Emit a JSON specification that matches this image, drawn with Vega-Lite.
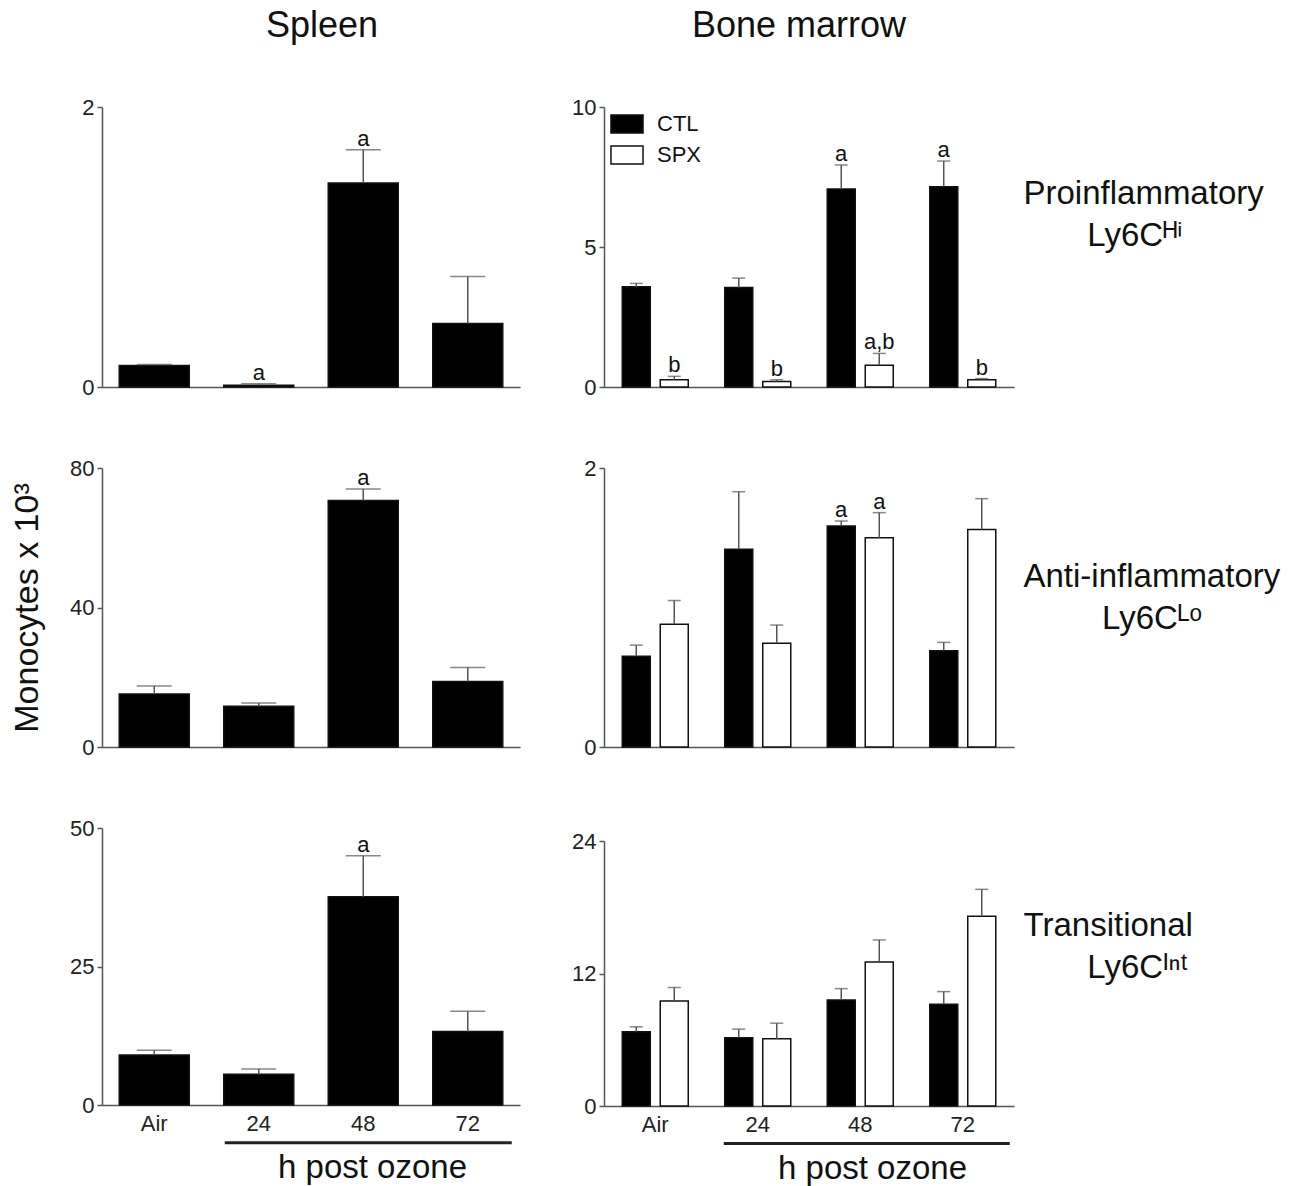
{
  "$schema": "https://vega.github.io/schema/vega-lite/v6.json",
  "background": "white",
  "padding": {"left": 10, "top": 8, "right": 5, "bottom": 2},
  "datasets": {
    "sp_hi": [
      {"t": "Air", "v": 0.153, "hi": 0.16, "sig": ""},
      {"t": "24", "v": 0.012, "hi": 0.024, "sig": "a"},
      {"t": "48", "v": 1.457, "hi": 1.694, "sig": "a"},
      {"t": "72", "v": 0.454, "hi": 0.789, "sig": ""}
    ],
    "sp_lo": [
      {"t": "Air", "v": 15.2, "hi": 17.5, "sig": ""},
      {"t": "24", "v": 11.67, "hi": 12.6, "sig": ""},
      {"t": "48", "v": 70.7, "hi": 74.0, "sig": "a"},
      {"t": "72", "v": 18.8, "hi": 22.8, "sig": ""}
    ],
    "sp_int": [
      {"t": "Air", "v": 9.04, "hi": 9.9, "sig": ""},
      {"t": "24", "v": 5.55, "hi": 6.5, "sig": ""},
      {"t": "48", "v": 37.6, "hi": 45.0, "sig": "a"},
      {"t": "72", "v": 13.25, "hi": 16.9, "sig": ""}
    ],
    "bm_hi": [
      {"t": "Air", "g": "CTL", "v": 3.58, "hi": 3.70, "sig": ""},
      {"t": "Air", "g": "SPX", "v": 0.26, "hi": 0.38, "sig": "b"},
      {"t": "24", "g": "CTL", "v": 3.55, "hi": 3.89, "sig": ""},
      {"t": "24", "g": "SPX", "v": 0.20, "hi": 0.26, "sig": "b"},
      {"t": "48", "g": "CTL", "v": 7.07, "hi": 7.93, "sig": "a"},
      {"t": "48", "g": "SPX", "v": 0.78, "hi": 1.20, "sig": "a,b"},
      {"t": "72", "g": "CTL", "v": 7.15, "hi": 8.07, "sig": "a"},
      {"t": "72", "g": "SPX", "v": 0.26, "hi": 0.30, "sig": "b"}
    ],
    "bm_lo": [
      {"t": "Air", "g": "CTL", "v": 0.65, "hi": 0.73, "sig": ""},
      {"t": "Air", "g": "SPX", "v": 0.88, "hi": 1.05, "sig": ""},
      {"t": "24", "g": "CTL", "v": 1.418, "hi": 1.83, "sig": ""},
      {"t": "24", "g": "SPX", "v": 0.743, "hi": 0.874, "sig": ""},
      {"t": "48", "g": "CTL", "v": 1.585, "hi": 1.62, "sig": "a"},
      {"t": "48", "g": "SPX", "v": 1.50, "hi": 1.68, "sig": "a"},
      {"t": "72", "g": "CTL", "v": 0.69, "hi": 0.75, "sig": ""},
      {"t": "72", "g": "SPX", "v": 1.56, "hi": 1.78, "sig": ""}
    ],
    "bm_int": [
      {"t": "Air", "g": "CTL", "v": 6.72, "hi": 7.17, "sig": ""},
      {"t": "Air", "g": "SPX", "v": 9.52, "hi": 10.73, "sig": ""},
      {"t": "24", "g": "CTL", "v": 6.18, "hi": 6.96, "sig": ""},
      {"t": "24", "g": "SPX", "v": 6.09, "hi": 7.5, "sig": ""},
      {"t": "48", "g": "CTL", "v": 9.61, "hi": 10.63, "sig": ""},
      {"t": "48", "g": "SPX", "v": 13.05, "hi": 15.04, "sig": ""},
      {"t": "72", "g": "CTL", "v": 9.22, "hi": 10.36, "sig": ""},
      {"t": "72", "g": "SPX", "v": 17.18, "hi": 19.62, "sig": ""}
    ],
    "bracket": [
      {"t": "24", "t2": "72"}
    ]
  },
  "spacing": 51,
  "hconcat": [
    {
      "spacing": 59,
      "vconcat": [
        {
          "width": 418, "height": 280,
          "data": {"name": "sp_hi"},
          "title": {"text": "Spleen", "fontSize": 36, "offset": 51, "anchor": "middle", "frame": "group", "dx": 11},
          "encoding": {"x": {"field": "t", "type": "nominal", "scale": {"domain": ["Air", "24", "48", "72"], "paddingInner": 0.33, "paddingOuter": 0.165}, "axis": {"labels": false, "ticks": false, "title": null}}},
          "layer": [
            {"mark": {"type": "bar", "fill": "#000", "stroke": "#111", "strokeWidth": 1.5},
             "encoding": {"y": {"field": "v", "type": "quantitative", "scale": {"domain": [0, 2]}, "axis": {"values": [0, 1, 2], "format": "d", "title": null}}}},
            {"mark": {"type": "rule", "color": "#555", "strokeWidth": 1.5},
             "encoding": {"y": {"field": "v", "type": "quantitative", "scale": {"domain": [0, 2]}, "axis": {"values": [0, 1, 2], "format": "d", "title": null}}, "y2": {"field": "hi"}}},
            {"mark": {"type": "tick", "color": "#555", "thickness": 1.5, "size": 35},
             "encoding": {"y": {"field": "hi", "type": "quantitative", "scale": {"domain": [0, 2]}, "axis": {"values": [0, 1, 2], "format": "d", "title": null}}}},
            {"transform": [{"filter": "datum.sig != ''"}],
             "mark": {"type": "text", "dy": -4, "baseline": "alphabetic", "fontSize": 22, "color": "#111"},
             "encoding": {"y": {"field": "hi", "type": "quantitative", "scale": {"domain": [0, 2]}, "axis": {"values": [0, 1, 2], "format": "d", "title": null}}, "text": {"field": "sig"}}}
          ]
        },
        {
          "width": 418, "height": 279,
          "data": {"name": "sp_lo"},
          "encoding": {"x": {"field": "t", "type": "nominal", "scale": {"domain": ["Air", "24", "48", "72"], "paddingInner": 0.33, "paddingOuter": 0.165}, "axis": {"labels": false, "ticks": false, "title": null}}},
          "layer": [
            {"mark": {"type": "bar", "fill": "#000", "stroke": "#111", "strokeWidth": 1.5},
             "encoding": {"y": {"field": "v", "type": "quantitative", "scale": {"domain": [0, 80]}, "axis": {"values": [0, 40, 80], "format": "d", "title": "Monocytes x 10\u00b3", "titleFontSize": 34, "titlePadding": 25}}}},
            {"mark": {"type": "rule", "color": "#555", "strokeWidth": 1.5},
             "encoding": {"y": {"field": "v", "type": "quantitative", "scale": {"domain": [0, 80]}, "axis": {"values": [0, 40, 80], "format": "d", "title": "Monocytes x 10\u00b3", "titleFontSize": 34, "titlePadding": 25}}, "y2": {"field": "hi"}}},
            {"mark": {"type": "tick", "color": "#555", "thickness": 1.5, "size": 35},
             "encoding": {"y": {"field": "hi", "type": "quantitative", "scale": {"domain": [0, 80]}, "axis": {"values": [0, 40, 80], "format": "d", "title": "Monocytes x 10\u00b3", "titleFontSize": 34, "titlePadding": 25}}}},
            {"transform": [{"filter": "datum.sig != ''"}],
             "mark": {"type": "text", "dy": -4, "baseline": "alphabetic", "fontSize": 22, "color": "#111"},
             "encoding": {"y": {"field": "hi", "type": "quantitative", "scale": {"domain": [0, 80]}, "axis": {"values": [0, 40, 80], "format": "d", "title": "Monocytes x 10\u00b3", "titleFontSize": 34, "titlePadding": 25}}, "text": {"field": "sig"}}}
          ]
        },
        {
          "width": 418, "height": 277,
          "data": {"name": "sp_int"},
          "encoding": {"x": {"field": "t", "type": "nominal", "scale": {"domain": ["Air", "24", "48", "72"], "paddingInner": 0.33, "paddingOuter": 0.165}, "axis": {"labels": true, "ticks": false, "labelAngle": 0, "labelPadding": 8, "title": "h post ozone", "titleFontSize": 33, "titleX": 270, "titlePadding": 17}}},
          "layer": [
            {"mark": {"type": "bar", "fill": "#000", "stroke": "#111", "strokeWidth": 1.5},
             "encoding": {"y": {"field": "v", "type": "quantitative", "scale": {"domain": [0, 50]}, "axis": {"values": [0, 25, 50], "format": "d", "title": null}}}},
            {"mark": {"type": "rule", "color": "#555", "strokeWidth": 1.5},
             "encoding": {"y": {"field": "v", "type": "quantitative", "scale": {"domain": [0, 50]}, "axis": {"values": [0, 25, 50], "format": "d", "title": null}}, "y2": {"field": "hi"}}},
            {"mark": {"type": "tick", "color": "#555", "thickness": 1.5, "size": 35},
             "encoding": {"y": {"field": "hi", "type": "quantitative", "scale": {"domain": [0, 50]}, "axis": {"values": [0, 25, 50], "format": "d", "title": null}}}},
            {"transform": [{"filter": "datum.sig != ''"}],
             "mark": {"type": "text", "dy": -4, "baseline": "alphabetic", "fontSize": 22, "color": "#111"},
             "encoding": {"y": {"field": "hi", "type": "quantitative", "scale": {"domain": [0, 50]}, "axis": {"values": [0, 25, 50], "format": "d", "title": null}}, "text": {"field": "sig"}}},
            {"data": {"name": "bracket"},
             "mark": {"type": "rule", "color": "#222", "strokeWidth": 3, "xOffset": -34, "x2Offset": 44},
             "encoding": {"x2": {"field": "t2"}, "y": {"datum": -6.8, "type": "quantitative", "scale": {"domain": [0, 50]}, "axis": {"values": [0, 25, 50], "format": "d", "title": null}}}}
          ]
        }
      ]
    },
    {
      "spacing": 59,
      "resolve": {"scale": {"fill": "independent"}},
      "vconcat": [
        {
          "width": 410, "height": 280,
          "data": {"name": "bm_hi"},
          "title": {"text": "Bone marrow", "fontSize": 36, "offset": 51, "anchor": "middle", "frame": "group", "dx": -10},
          "resolve": {"axis": {"y": "independent"}},
          "encoding": {"x": {"field": "t", "type": "nominal", "scale": {"domain": ["Air", "24", "48", "72"], "paddingInner": 0.356, "paddingOuter": 0.178}, "axis": {"labels": false, "ticks": false, "title": null}}},
          "layer": [
            {"mark": {"type": "bar", "stroke": "#111", "strokeWidth": 1.5},
             "encoding": {
               "xOffset": {"field": "g", "type": "nominal", "scale": {"domain": ["CTL", "SPX"], "paddingInner": 0.263, "paddingOuter": 0}},
               "y": {"field": "v", "type": "quantitative", "scale": {"domain": [0, 10]}, "axis": {"values": [0, 5, 10], "format": "d", "title": null}},
               "fill": {"field": "g", "type": "nominal", "scale": {"domain": ["CTL", "SPX"], "range": ["#000000", "#ffffff"]},
                 "legend": {"title": null, "orient": "none", "legendX": 12, "legendY": 6, "padding": 0, "symbolType": "M-1.78,-1H1.78V1H-1.78Z", "symbolSize": 324, "symbolStrokeColor": "#111", "symbolStrokeWidth": 1.5, "symbolOpacity": 1, "labelFontSize": 22, "labelOffset": 19, "rowPadding": 7, "labelColor": "#111"}}
             }},
            {"mark": {"type": "rule", "color": "#555", "strokeWidth": 1.5},
             "encoding": {
               "xOffset": {"field": "g", "type": "nominal", "scale": {"domain": ["CTL", "SPX"], "paddingInner": 0.263, "paddingOuter": 0}},
               "y": {"field": "v", "type": "quantitative", "scale": {"domain": [0, 10]}, "axis": null}, "y2": {"field": "hi"}}},
            {"mark": {"type": "tick", "color": "#555", "thickness": 1.5, "size": 13},
             "encoding": {
               "xOffset": {"field": "g", "type": "nominal", "scale": {"domain": ["CTL", "SPX"], "paddingInner": 0.263, "paddingOuter": 0}},
               "y": {"field": "hi", "type": "quantitative", "scale": {"domain": [0, 10]},
                 "axis": {"orient": "right", "domain": false, "ticks": false, "labels": false, "grid": false, "title": ["Proinflammatory", "\u2800\u2800 \u2009Ly6C\u1d34\u2071"], "titleAngle": 0, "titleAlign": "left", "titleBaseline": "middle", "titleX": 9, "titleY": 86, "titleFontSize": 33, "titleLineHeight": 42, "titleColor": "#111", "titleFontWeight": "normal"}}}},
            {"transform": [{"filter": "datum.sig != ''"}],
             "mark": {"type": "text", "dy": -4, "baseline": "alphabetic", "fontSize": 22, "color": "#111"},
             "encoding": {
               "xOffset": {"field": "g", "type": "nominal", "scale": {"domain": ["CTL", "SPX"], "paddingInner": 0.263, "paddingOuter": 0}},
               "y": {"field": "hi", "type": "quantitative", "scale": {"domain": [0, 10]}, "axis": null}, "text": {"field": "sig"}}}
          ]
        },
        {
          "width": 410, "height": 279,
          "data": {"name": "bm_lo"},
          "resolve": {"axis": {"y": "independent"}},
          "encoding": {"x": {"field": "t", "type": "nominal", "scale": {"domain": ["Air", "24", "48", "72"], "paddingInner": 0.356, "paddingOuter": 0.178}, "axis": {"labels": false, "ticks": false, "title": null}}},
          "layer": [
            {"mark": {"type": "bar", "stroke": "#111", "strokeWidth": 1.5},
             "encoding": {
               "xOffset": {"field": "g", "type": "nominal", "scale": {"domain": ["CTL", "SPX"], "paddingInner": 0.263, "paddingOuter": 0}},
               "y": {"field": "v", "type": "quantitative", "scale": {"domain": [0, 2]}, "axis": {"values": [0, 1, 2], "format": "d", "title": null}},
               "fill": {"field": "g", "type": "nominal", "scale": {"domain": ["CTL", "SPX"], "range": ["#000000", "#ffffff"]}, "legend": null}
             }},
            {"mark": {"type": "rule", "color": "#555", "strokeWidth": 1.5},
             "encoding": {
               "xOffset": {"field": "g", "type": "nominal", "scale": {"domain": ["CTL", "SPX"], "paddingInner": 0.263, "paddingOuter": 0}},
               "y": {"field": "v", "type": "quantitative", "scale": {"domain": [0, 2]}, "axis": null}, "y2": {"field": "hi"}}},
            {"mark": {"type": "tick", "color": "#555", "thickness": 1.5, "size": 13},
             "encoding": {
               "xOffset": {"field": "g", "type": "nominal", "scale": {"domain": ["CTL", "SPX"], "paddingInner": 0.263, "paddingOuter": 0}},
               "y": {"field": "hi", "type": "quantitative", "scale": {"domain": [0, 2]},
                 "axis": {"orient": "right", "domain": false, "ticks": false, "labels": false, "grid": false, "title": ["Anti-inflammatory", "\u2800\u2800\u2800\u2009Ly6C\u1d38\u1d52"], "titleAngle": 0, "titleAlign": "left", "titleBaseline": "middle", "titleX": 9, "titleY": 108, "titleFontSize": 33, "titleLineHeight": 42, "titleColor": "#111", "titleFontWeight": "normal"}}}},
            {"transform": [{"filter": "datum.sig != ''"}],
             "mark": {"type": "text", "dy": -4, "baseline": "alphabetic", "fontSize": 22, "color": "#111"},
             "encoding": {
               "xOffset": {"field": "g", "type": "nominal", "scale": {"domain": ["CTL", "SPX"], "paddingInner": 0.263, "paddingOuter": 0}},
               "y": {"field": "hi", "type": "quantitative", "scale": {"domain": [0, 2]}, "axis": null}, "text": {"field": "sig"}}}
          ]
        },
        {
          "width": 410, "height": 265,
          "data": {"name": "bm_int"},
          "title": {"text": " ", "fontSize": 4, "offset": 9},
          "resolve": {"axis": {"y": "independent"}},
          "encoding": {"x": {"field": "t", "type": "nominal", "scale": {"domain": ["Air", "24", "48", "72"], "paddingInner": 0.356, "paddingOuter": 0.178}, "axis": {"labels": true, "ticks": false, "labelAngle": 0, "labelPadding": 8, "title": "h post ozone", "titleFontSize": 33, "titleX": 268, "titlePadding": 17}}},
          "layer": [
            {"mark": {"type": "bar", "stroke": "#111", "strokeWidth": 1.5},
             "encoding": {
               "xOffset": {"field": "g", "type": "nominal", "scale": {"domain": ["CTL", "SPX"], "paddingInner": 0.263, "paddingOuter": 0}},
               "y": {"field": "v", "type": "quantitative", "scale": {"domain": [0, 24]}, "axis": {"values": [0, 12, 24], "format": "d", "title": null}},
               "fill": {"field": "g", "type": "nominal", "scale": {"domain": ["CTL", "SPX"], "range": ["#000000", "#ffffff"]}, "legend": null}
             }},
            {"mark": {"type": "rule", "color": "#555", "strokeWidth": 1.5},
             "encoding": {
               "xOffset": {"field": "g", "type": "nominal", "scale": {"domain": ["CTL", "SPX"], "paddingInner": 0.263, "paddingOuter": 0}},
               "y": {"field": "v", "type": "quantitative", "scale": {"domain": [0, 24]}, "axis": null}, "y2": {"field": "hi"}}},
            {"mark": {"type": "tick", "color": "#555", "thickness": 1.5, "size": 13},
             "encoding": {
               "xOffset": {"field": "g", "type": "nominal", "scale": {"domain": ["CTL", "SPX"], "paddingInner": 0.263, "paddingOuter": 0}},
               "y": {"field": "hi", "type": "quantitative", "scale": {"domain": [0, 24]},
                 "axis": {"orient": "right", "domain": false, "ticks": false, "labels": false, "grid": false, "title": ["Transitional", "\u2800\u2800 \u2009Ly6C\u1d35\u207f\u1d57"], "titleAngle": 0, "titleAlign": "left", "titleBaseline": "middle", "titleX": 9, "titleY": 84, "titleFontSize": 33, "titleLineHeight": 42, "titleColor": "#111", "titleFontWeight": "normal"}}}},
            {"data": {"name": "bracket"},
             "mark": {"type": "rule", "color": "#222", "strokeWidth": 3, "xOffset": -34, "x2Offset": 47},
             "encoding": {"x2": {"field": "t2"}, "y": {"datum": -3.4, "type": "quantitative", "scale": {"domain": [0, 24]}, "axis": null}}}
          ]
        }
      ]
    }
  ],
  "config": {
    "font": "Liberation Sans",
    "view": {"stroke": null},
    "axis": {"domainColor": "#555", "tickColor": "#555", "labelColor": "#222", "labelFontSize": 22, "grid": false, "domainWidth": 1.5, "tickWidth": 1.5, "tickSize": 5, "labelPadding": 3, "titleFontWeight": "normal", "titleColor": "#111"},
    "title": {"fontWeight": "normal", "color": "#111"}
  }
}
